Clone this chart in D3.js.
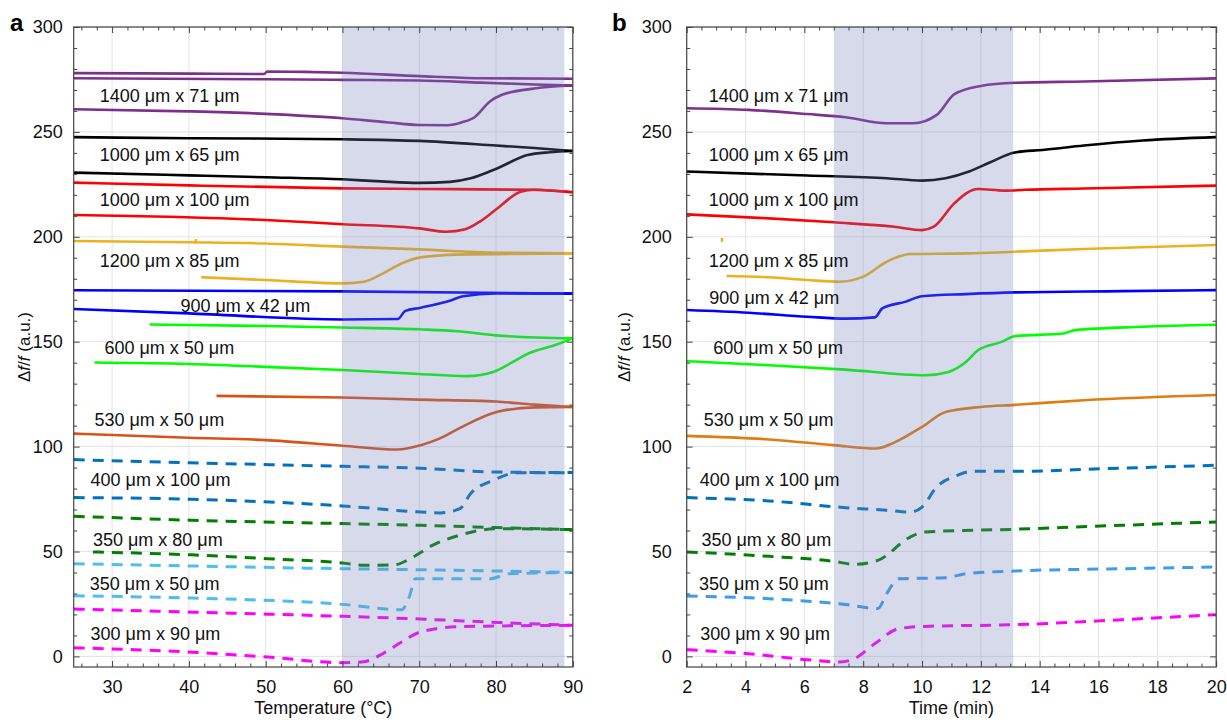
<!DOCTYPE html>
<html>
<head>
<meta charset="utf-8">
<script src="https://cdn.jsdelivr.net/npm/d3@7"></script>
<style>
  body { margin: 0; background: #fff; }
  svg { font-family: "Liberation Sans", Arial, Helvetica, sans-serif; }
</style>
</head>
<body>
<div id="myChart"></div>
<script>

// ---- Panel a : Temperature sweeps (heating = lower branch, cooling = upper branch)
var temp1400Heat = [[25,260.8],[40,259.8],[50,258.6],[60,256.5],[66,254.5],[70,253.3],[73.7,253.2],[75.5,254.5],[77.2,257],[79.2,264.5],[80.7,267.6],[85,270.7],[90,272.1]];
var temp1400Cool = [[25,275.6],[50,275.1],[60,274.8],[70,274.5],[78,273.5],[85,272.6],[90,272.1]];
var temp1400Back = [[25,278.0],[40,277.8],[49.8,277.6],[50.2,278.8],[55,278.6],[60,278.2],[70,276.6],[78,275.6],[90,275.3]];
var temp1000x65Heat = [[25,230.6],[40,229.3],[50,228.4],[60,227.4],[65,226.4],[70,225.7],[74,226.2],[76.7,227.9],[80.2,232.7],[84.1,239.0],[87,240.3],[90,240.9]];
var temp1000x65Cool = [[25,247.5],[40,247.0],[60,246.5],[70,245.7],[80,243.5],[85,242.3],[90,240.9]];
var temp1000x100Heat = [[25,210.4],[50,208.0],[60,206.0],[70,204.0],[73.5,202.4],[76,203.6],[78,207.5],[80.2,213.6],[83.2,221.5],[85,222.4],[90,221.2]];
var temp1000x100Cool = [[25,225.8],[40,224.5],[60,223.1],[70,222.8],[85,222.4],[90,221.2]];
var temp1200Heat = [[41.6,180.7],[50,179.4],[60,177.8],[62.8,178.6],[65.3,182.6],[67.7,187.3],[70.2,190.2],[75,191.5],[90,192.1]];
var temp1200Cool = [[25,198.0],[40,197.4],[50,196.8],[60,195.3],[70,194.0],[80,192.4],[90,192.1]];
var temp1200Glitch = [[40.9,196.9],[40.9,198.9]];
var temp900Heat = [[25,165.6],[40,163.5],[60,160.6],[67.2,160.8],[68.2,164.7],[70.2,166.2],[74.2,169.8],[75.7,171.7],[80,173.0],[90,172.9]];
var temp900Cool = [[25,174.5],[60,174.0],[90,172.9]];
var temp600Heat = [[27.7,140.1],[40,139.4],[50,138.0],[60,136.5],[70,134.6],[76.2,133.6],[79.7,135.7],[82.2,140.4],[84.2,144.4],[87.7,148.4],[90,151.6]];
var temp600Cool = [[34.9,158.2],[50,157.5],[60,156.8],[70,155.9],[75,155.0],[80,153.0],[90,151.6]];
var temp530Heat = [[25,106.2],[40,104.2],[50,103.1],[60,100.4],[67.2,98.6],[70.2,100.7],[72.7,103.9],[75.2,108.7],[80.2,116.6],[85.1,118.7],[90,118.9]];
var temp530Cool = [[43.6,124.2],[60,123.4],[70,122.4],[80,121.5],[85,120.0],[90,118.9]];
var temp400Heat = [[25,75.7],[40.4,74.9],[60,71.7],[70.2,68.8],[72.7,68.4],[75.3,70.4],[76.7,77.6],[79.7,84.0],[82.7,87.5],[90,87.6]];
var temp400Cool = [[25,93.8],[40,92.3],[60,90.6],[70,89.7],[80,87.9],[90,87.6]];
var temp350x80Heat = [[27.5,49.8],[40.4,48.4],[50.3,46.6],[60,44.5],[62.8,43.4],[66.8,43.7],[69.2,47.4],[71.7,52.9],[75.2,57.7],[80.2,60.9],[90,60.4]];
var temp350x80Cool = [[25,66.8],[40.4,64.9],[60,63.3],[70.2,62.5],[80.2,61.4],[90,60.4]];
var temp350x50Heat = [[25,28.9],[40.4,27.8],[60,24.8],[67.7,22.2],[68.7,28.3],[69.5,37.0],[72.7,37.0],[79.2,37.0],[81.7,39.4],[90,40.0]];
var temp350x50Cool = [[25,44.2],[40.4,43.1],[60,41.8],[70.2,41.3],[80.2,40.7],[90,40.0]];
var temp300Heat = [[25,4.1],[40.4,2.0],[50.3,-0.3],[60,-3.0],[62.8,-2.5],[65.3,1.4],[67.7,6.9],[70.2,11.7],[75.2,14.2],[90,14.8]];
var temp300Cool = [[25,22.6],[40.4,21.1],[60,19.1],[70.2,17.8],[80.2,16.2],[90,14.8]];

// ---- Panel b : Time traces
var time1400 = [[2,261.3],[4.1,260.5],[6.1,258.5],[7.4,257.0],[8.8,254.1],[9.7,254.1],[10.5,258.1],[11.1,268.0],[12.0,271.9],[13.15,273.4],[15.5,274.0],[20,275.5]];
var time1000x65 = [[2,231.1],[6.1,229.2],[8.8,227.9],[10,226.8],[10.8,227.9],[11.6,231.1],[12.3,235.4],[13.15,240.2],[14.1,241.4],[15.5,243.5],[17.5,245.9],[20,247.5]];
var time1000x100 = [[2,210.7],[4.8,208.8],[7.0,206.9],[9.05,204.8],[10,203.2],[10.4,204.8],[11.1,216.0],[11.9,222.8],[12.8,222.0],[13.5,222.4],[15.5,223.0],[20,224.4]];
var time1200 = [[3.35,181.3],[4.8,180.7],[6.1,179.4],[7.2,178.6],[8.0,181.0],[8.8,188.1],[9.6,191.8],[11.5,192.1],[13.15,192.9],[15.5,194.2],[20,196.1]];
var time1200Glitch = [[3.2,197.6],[3.2,199.4]];
var time900 = [[2,165.1],[4.1,163.8],[6.1,161.9],[7.4,161.0],[8.4,161.6],[8.65,165.9],[9.45,169.1],[10,171.7],[11.5,172.7],[13.15,173.5],[16.8,174.1],[20,174.6]];
var time600 = [[2,140.7],[4.8,138.8],[7.4,136.7],[10.1,134.0],[10.9,135.6],[11.5,140.4],[11.9,145.9],[12.7,149.9],[13.15,152.6],[14.8,153.9],[15.2,155.5],[17.5,157.1],[20,158.1]];
var time530 = [[2,105.1],[4.8,103.4],[7.0,100.7],[8.45,99.1],[9.05,101.9],[10,109.4],[10.8,116.5],[12.0,118.9],[13.15,119.9],[15.5,122.1],[20,124.6]];
var time400 = [[2,75.7],[4.8,74.1],[7.4,70.9],[8.8,69.7],[9.6,68.8],[10,71.2],[10.5,80.8],[11.2,86.3],[11.7,88.2],[13.15,88.2],[16.2,89.5],[20,91.1]];
var time350x80 = [[2,49.8],[4.8,47.7],[7.0,45.3],[7.7,43.9],[8.5,45.8],[9.6,56.9],[10.1,59.3],[13.15,60.6],[16.8,62.5],[20,64.1]];
var time350x50 = [[2,28.8],[4.8,27.5],[7.4,24.7],[8.5,22.8],[8.8,29.9],[9.2,37.0],[10.8,37.5],[11.5,39.4],[13.15,40.7],[16.8,41.8],[20,42.6]];
var time300 = [[2,3.2],[4.1,1.3],[6.1,-1.6],[7.2,-2.7],[7.7,-1.1],[8.4,6.1],[9.2,13.2],[10.1,14.3],[13.15,15.1],[16.8,17.5],[20,19.9]];

// ---- Sample labels and where they sit (data units)
var sampleNames = ["1400 \u03bcm x 71 \u03bcm", "1000 \u03bcm x 65 \u03bcm", "1000 \u03bcm x 100 \u03bcm", "1200 \u03bcm x 85 \u03bcm",
                   "900 \u03bcm x 42 \u03bcm", "600 \u03bcm x 50 \u03bcm", "530 \u03bcm x 50 \u03bcm", "400 \u03bcm x 100 \u03bcm",
                   "350 \u03bcm x 80 \u03bcm", "350 \u03bcm x 50 \u03bcm", "300 \u03bcm x 90 \u03bcm"];
var labelTempX = [28.4, 28.4, 28.4, 28.4, 38.9, 29.0, 27.7, 27.2, 27.5, 27.1, 27.2];
var labelTempY = [267.3, 239.3, 217.6, 188.6, 167.1, 147.3, 113.1, 84.3, 55.7, 34.7, 10.8];
var labelTimeX = [2.75, 2.75, 2.75, 2.75, 2.77, 2.9, 2.58, 2.44, 2.5, 2.42, 2.46];
var labelTimeY = [267.3, 239.3, 217.6, 188.6, 171.0, 147.3, 113.1, 84.3, 55.7, 34.7, 10.8];

// ---- Axes settings
var tempTicks = [30, 40, 50, 60, 70, 80, 90];
var timeTicks = [2, 4, 6, 8, 10, 12, 14, 16, 18, 20];
var yTicks = [0, 50, 100, 150, 200, 250, 300];


var width = 1227;
var height = 720;
var fontSize = "18px";

var canvass = d3.select("#myChart")
	.append("svg")
	.attr("width", width)
	.attr("height", height);


// Draw one panel of the figure
function drawPanel(cfg) {

	var xScale = d3.scaleLinear().domain(cfg.xDomain).range(cfg.xRange);
	var yScale = d3.scaleLinear().domain([-5.05, 300]).range([667, 27]);

	var g = canvass.append("g");

	// grid lines
	g.selectAll(".vgrid")
		.data(cfg.xTicks)
		.enter().append("line")
		.attr("x1", function(d) { return xScale(d); })
		.attr("x2", function(d) { return xScale(d); })
		.attr("y1", yScale.range()[0])
		.attr("y2", yScale.range()[1])
		.attr("stroke", "#e4e4e4")
		.attr("stroke-width", 1);

	g.selectAll(".hgrid")
		.data(yTicks)
		.enter().append("line")
		.attr("x1", cfg.xRange[0])
		.attr("x2", cfg.xRange[1])
		.attr("y1", function(d) { return yScale(d); })
		.attr("y2", function(d) { return yScale(d); })
		.attr("stroke", "#e4e4e4")
		.attr("stroke-width", 1);

	// data lines
	var line = d3.line()
		.x(function(d) { return xScale(d[0]); })
		.y(function(d) { return yScale(d[1]); })
		.curve(d3.curveMonotoneX);

	cfg.series.forEach(function(s) {
		g.append("path")
			.attr("d", line(s.data))
			.attr("fill", "none")
			.attr("stroke", s.color)
			.attr("stroke-width", s.dashed ? 3 : 2.6)
			.attr("stroke-dasharray", s.dashed ? "11,8" : null)
			.attr("stroke-linecap", "butt");
	});

	// shaded transition region, drawn on top and see-through
	g.append("rect")
		.attr("x", xScale(cfg.band[0]))
		.attr("y", yScale(300))
		.attr("width", xScale(cfg.band[1]) - xScale(cfg.band[0]))
		.attr("height", yScale(-5.05) - yScale(300))
		.attr("fill", "rgb(112,128,186)")
		.attr("fill-opacity", 0.29);

	// sample labels
	g.selectAll(".lbl")
		.data(sampleNames)
		.enter().append("text")
		.attr("x", function(d, i) { return xScale(cfg.labelX[i]); })
		.attr("y", function(d, i) { return yScale(cfg.labelY[i]); })
		.attr("dy", "0.36em")
		.style("font-size", fontSize)
		.attr("fill", "#111")
		.text(function(d) { return d; });

	// frame with inward ticks on all sides
	var x0 = cfg.xRange[0], x1 = cfg.xRange[1];
	var y0 = yScale.range()[0], y1 = yScale.range()[1];
	var frameColor = "#444";

	var axisBottom = d3.axisBottom(xScale).tickValues(cfg.xTicks).tickSizeInner(-6).tickSizeOuter(0).tickPadding(13);
	var axisBottomMinor = d3.axisBottom(xScale).tickValues(cfg.xMinor).tickSizeInner(-3.5).tickSizeOuter(0).tickFormat("");
	var axisTop = d3.axisTop(xScale).tickValues(cfg.xTicks).tickSizeInner(-6).tickSizeOuter(0).tickFormat("");
	var axisTopMinor = d3.axisTop(xScale).tickValues(cfg.xMinor).tickSizeInner(-3.5).tickSizeOuter(0).tickFormat("");
	var axisLeft = d3.axisLeft(yScale).tickValues(yTicks).tickSizeInner(-6).tickSizeOuter(0).tickPadding(cfg.yPad);
	var axisLeftMinor = d3.axisLeft(yScale).tickValues(cfg.yMinor).tickSizeInner(-3.5).tickSizeOuter(0).tickFormat("");
	var axisRight = d3.axisRight(yScale).tickValues(yTicks).tickSizeInner(-6).tickSizeOuter(0).tickFormat("");
	var axisRightMinor = d3.axisRight(yScale).tickValues(cfg.yMinor).tickSizeInner(-3.5).tickSizeOuter(0).tickFormat("");

	function put(axisFn, tx, ty) {
		var a = g.append("g")
			.attr("transform", "translate(" + tx + "," + ty + ")")
			.call(axisFn);
		a.select(".domain").remove();
		a.selectAll("line").attr("stroke", frameColor);
		a.selectAll("text")
			.style("font-size", fontSize)
			.attr("fill", "#111")
			.style("font-family", "'Liberation Sans', Arial, sans-serif");
		return a;
	}

	put(axisBottom, 0, y0);
	put(axisBottomMinor, 0, y0);
	put(axisTop, 0, y1);
	put(axisTopMinor, 0, y1);
	put(axisLeft, x0, 0);
	put(axisLeftMinor, x0, 0);
	put(axisRight, x1, 0);
	put(axisRightMinor, x1, 0);

	g.append("rect")
		.attr("x", x0).attr("y", y1)
		.attr("width", x1 - x0).attr("height", y0 - y1)
		.attr("fill", "none")
		.attr("stroke", frameColor)
		.attr("stroke-width", 1.2);

	// axis titles
	g.append("text")
		.attr("x", (x0 + x1) / 2)
		.attr("y", 714)
		.attr("text-anchor", "middle")
		.style("font-size", fontSize)
		.attr("fill", "#111")
		.text(cfg.xTitle);

	var yt = g.append("text")
		.attr("transform", "translate(" + cfg.yTitleX + "," + ((y0 + y1) / 2) + ") rotate(-90)")
		.attr("text-anchor", "middle")
		.attr("dy", "0.35em")
		.style("font-size", "17px")
		.attr("fill", "#111");
	yt.append("tspan").text("\u0394");
	yt.append("tspan").style("font-style", "italic").text("f");
	yt.append("tspan").text("/");
	yt.append("tspan").style("font-style", "italic").text("f");
	yt.append("tspan").text(" (a.u.)");

	// panel letter
	g.append("text")
		.attr("x", cfg.letterX)
		.attr("y", 31)
		.style("font-size", "24px")
		.style("font-weight", "bold")
		.attr("fill", "#000")
		.text(cfg.letter);
}


// minor tick values
var tempMinor = d3.range(26, 90, 2).filter(function(d) { return d % 10 !== 0; });
var timeMinor = d3.range(2.5, 20, 0.5).filter(function(d) { return d % 2 !== 0; });
var yMinor = d3.range(10, 300, 10).filter(function(d) { return d % 50 !== 0; });

drawPanel({
	letter: "a",
	letterX: 10,
	xDomain: [25, 90],
	xRange: [73.7, 572.8],
	xTicks: tempTicks,
	xMinor: tempMinor,
	yMinor: yMinor,
	yPad: 11,
	yTitleX: 24,
	band: [60, 88.9],
	xTitle: "Temperature (\u00b0C)",
	labelX: labelTempX,
	labelY: labelTempY,
	series: [
		{data: temp1400Heat, color: "#7e2f8e"},
		{data: temp1400Cool, color: "#7e2f8e"},
		{data: temp1400Back, color: "#7e2f8e"},
		{data: temp1000x65Heat, color: "#000000"},
		{data: temp1000x65Cool, color: "#000000"},
		{data: temp1000x100Heat, color: "#ff0000"},
		{data: temp1000x100Cool, color: "#ff0000"},
		{data: temp1200Heat, color: "#edb120"},
		{data: temp1200Cool, color: "#edb120"},
		{data: temp1200Glitch, color: "#edb120"},
		{data: temp900Heat, color: "#0000ff"},
		{data: temp900Cool, color: "#0000ff"},
		{data: temp600Heat, color: "#00ff00"},
		{data: temp600Cool, color: "#00ff00"},
		{data: temp530Heat, color: "#d95319"},
		{data: temp530Cool, color: "#d95319"},
		{data: temp400Heat, color: "#0072bd", dashed: true},
		{data: temp400Cool, color: "#0072bd", dashed: true},
		{data: temp350x80Heat, color: "#008000", dashed: true},
		{data: temp350x80Cool, color: "#008000", dashed: true},
		{data: temp350x50Heat, color: "#4dbeee", dashed: true},
		{data: temp350x50Cool, color: "#4dbeee", dashed: true},
		{data: temp300Heat, color: "#ff00ff", dashed: true},
		{data: temp300Cool, color: "#ff00ff", dashed: true}
	]
});

drawPanel({
	letter: "b",
	letterX: 612,
	xDomain: [2, 20],
	xRange: [686.7, 1216.2],
	xTicks: timeTicks,
	xMinor: timeMinor,
	yMinor: yMinor,
	yPad: 15,
	yTitleX: 624,
	band: [7, 13.1],
	xTitle: "Time (min)",
	labelX: labelTimeX,
	labelY: labelTimeY,
	series: [
		{data: time1400, color: "#7e2f8e"},
		{data: time1000x65, color: "#000000"},
		{data: time1000x100, color: "#ff0000"},
		{data: time1200, color: "#edb120"},
		{data: time1200Glitch, color: "#edb120"},
		{data: time900, color: "#0000ff"},
		{data: time600, color: "#00ff00"},
		{data: time530, color: "#e07d10"},
		{data: time400, color: "#0072bd", dashed: true},
		{data: time350x80, color: "#008000", dashed: true},
		{data: time350x50, color: "#3d9cf0", dashed: true},
		{data: time300, color: "#ff00ff", dashed: true}
	]
});

</script>
</body>
</html>
